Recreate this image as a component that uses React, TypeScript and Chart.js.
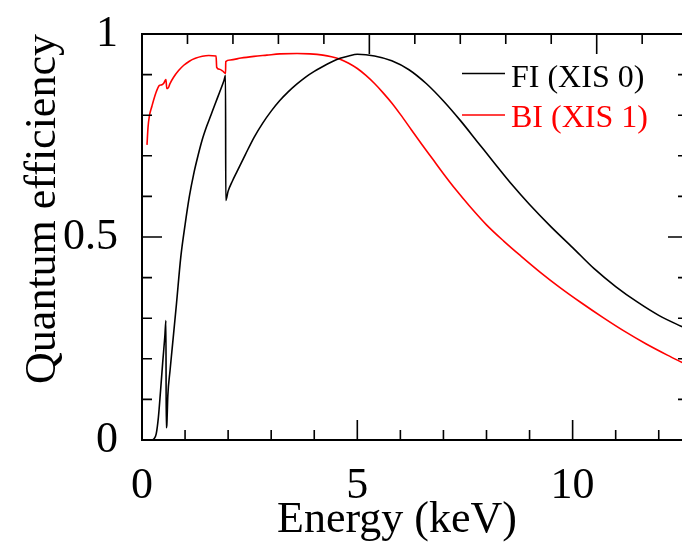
import React, { useEffect, useRef } from "react";
import { Chart, registerables } from "chart.js";

Chart.register(...registerables);

// FI (XIS 0) quantum efficiency
const fiEnergy = [0.23, 0.28, 0.33, 0.38, 0.43, 0.48, 0.53, 0.556, 0.562, 0.575, 0.6, 0.65, 0.7, 0.8, 0.9, 1.0, 1.1, 1.2, 1.3, 1.4, 1.5, 1.6, 1.7, 1.8, 1.9, 1.94, 1.945, 2.0, 2.1, 2.2, 2.4, 2.6, 2.8, 3.0, 3.2, 3.4, 3.6, 3.8, 4.0, 4.2, 4.4, 4.6, 4.8, 5.0, 5.4, 5.8, 6.2, 6.6, 7.0, 7.4, 7.8, 8.2, 8.6, 9.0, 9.5, 10.0, 10.5, 11.0, 11.5, 12.0, 12.6];
const fiQE = [0, 0.003, 0.015, 0.055, 0.12, 0.19, 0.255, 0.294, 0.03, 0.035, 0.11, 0.17, 0.225, 0.335, 0.45, 0.53, 0.6, 0.655, 0.7, 0.74, 0.772, 0.8, 0.828, 0.856, 0.884, 0.898, 0.59, 0.613, 0.638, 0.66, 0.703, 0.745, 0.78, 0.81, 0.836, 0.858, 0.877, 0.894, 0.908, 0.92, 0.931, 0.94, 0.946, 0.95, 0.946, 0.934, 0.912, 0.878, 0.835, 0.786, 0.733, 0.68, 0.628, 0.58, 0.525, 0.474, 0.422, 0.378, 0.34, 0.307, 0.276];

// BI (XIS 1) quantum efficiency
const biEnergy = [0.116, 0.14, 0.17, 0.23, 0.3, 0.386, 0.42, 0.46, 0.5, 0.54, 0.556, 0.575, 0.6, 0.65, 0.73, 0.85, 0.97, 1.1, 1.24, 1.4, 1.55, 1.72, 1.735, 1.8, 1.87, 1.94, 1.945, 2.05, 2.3, 2.6, 2.9, 3.2, 3.6, 3.9, 4.2, 4.4, 4.6, 4.8, 5.0, 5.2, 5.4, 5.6, 5.8, 6.0, 6.25, 6.5, 6.75, 7.0, 7.3, 7.6, 8.0, 8.4, 8.8, 9.25, 9.7, 10.2, 10.7, 11.2, 11.7, 12.2, 12.6];
const biQE = [0.727, 0.77, 0.797, 0.822, 0.848, 0.871, 0.874, 0.875, 0.878, 0.886, 0.888, 0.866, 0.866, 0.878, 0.893, 0.91, 0.923, 0.933, 0.94, 0.945, 0.947, 0.946, 0.918, 0.913, 0.909, 0.903, 0.932, 0.936, 0.941, 0.945, 0.948, 0.951, 0.952, 0.951, 0.948, 0.944, 0.938, 0.928, 0.915, 0.898, 0.878, 0.855, 0.83, 0.802, 0.765, 0.728, 0.692, 0.656, 0.615, 0.577, 0.53, 0.49, 0.453, 0.413, 0.376, 0.338, 0.302, 0.268, 0.237, 0.209, 0.188];

const seriesLabels = ["FI (XIS 0)", "BI (XIS 1)"];
const seriesColors = ["#000000", "#ff0000"];
const xTitle = "Energy (keV)";
const yTitle = "Quantum efficiency";
const xTickValues = [0, 1, 2, 3, 4, 5, 6, 7, 8, 9, 10, 11, 12];
const xTopTickValues = [0, 1, 2, 3, 4, 5, 6, 7, 8, 9, 10, 11];
const yTickValues = [0, 0.1, 0.2, 0.3, 0.4, 0.5, 0.6, 0.7, 0.8, 0.9, 1];
const xLabelValues = [0, 5, 10];
const yLabels: Record<string, string> = { "0": "0", "0.5": "0.5", "1": "1" };

const FONT = "'Liberation Serif', 'Times New Roman', serif";

const framePlugin = {
  id: "frame",
  afterDraw(chart: any) {
    const { ctx, chartArea } = chart;
    const { left, top, bottom, right } = chartArea;
    const x = chart.scales.x;
    const xTop = chart.scales.xTop;
    const y = chart.scales.y;
    const R = right + 6;
    ctx.save();
    ctx.strokeStyle = "#000";
    ctx.lineWidth = 2;
    ctx.beginPath();
    ctx.moveTo(R, top);
    ctx.lineTo(left, top);
    ctx.lineTo(left, bottom);
    ctx.lineTo(R, bottom);
    ctx.stroke();
    ctx.lineWidth = 1.6;
    ctx.beginPath();
    for (const v of xTickValues) {
      const px = x.getPixelForValue(v);
      const len = v % 5 === 0 ? 20 : 10;
      ctx.moveTo(px, bottom);
      ctx.lineTo(px, bottom - len);
    }
    for (const v of xTopTickValues) {
      const px = xTop.getPixelForValue(v);
      const len = v % 5 === 0 ? 20 : 10;
      ctx.moveTo(px, top);
      ctx.lineTo(px, top + len);
    }
    for (const v of yTickValues) {
      const py = y.getPixelForValue(v);
      const major = Math.abs(v * 2 - Math.round(v * 2)) < 1e-6;
      const len = major ? 20 : 10;
      ctx.moveTo(left, py);
      ctx.lineTo(left + len, py);
      ctx.moveTo(R, py);
      ctx.lineTo(R - len, py);
    }
    ctx.stroke();

    // axis titles
    ctx.fillStyle = "#000";
    ctx.font = `44px ${FONT}`;
    ctx.textAlign = "center";
    ctx.textBaseline = "alphabetic";
    ctx.fillText(xTitle, 397, 532);
    ctx.save();
    ctx.translate(55, 209);
    ctx.rotate(-Math.PI / 2);
    ctx.fillText(yTitle, 0, 0);
    ctx.restore();

    // legend
    ctx.font = `32px ${FONT}`;
    ctx.textAlign = "left";
    const rows = [
      { ly: 73.5, ty: 86.7 },
      { ly: 115, ty: 127.3 },
    ];
    chart.data.datasets.forEach((ds: any, i: number) => {
      const r = rows[i];
      ctx.strokeStyle = ds.borderColor;
      ctx.lineWidth = 1.5;
      ctx.beginPath();
      ctx.moveTo(462, r.ly);
      ctx.lineTo(505, r.ly);
      ctx.stroke();
      ctx.fillStyle = ds.borderColor;
      ctx.fillText(ds.label, 511, r.ty);
    });
    ctx.restore();
  },
};

export default function App() {
  const ref = useRef<HTMLCanvasElement | null>(null);
  useEffect(() => {
    if (!ref.current) return;
    const toPts = (xs: number[], ys: number[]) => xs.map((e, i) => ({ x: e, y: ys[i] }));
    const chart = new Chart(ref.current, {
      type: "scatter",
      data: {
        datasets: [
          {
            label: seriesLabels[0],
            data: toPts(fiEnergy, fiQE),
            borderColor: seriesColors[0],
            backgroundColor: seriesColors[0],
            showLine: true,
            pointRadius: 0,
            borderWidth: 1.6,
            cubicInterpolationMode: "monotone",
          },
          {
            label: seriesLabels[1],
            data: toPts(biEnergy, biQE),
            borderColor: seriesColors[1],
            backgroundColor: seriesColors[1],
            showLine: true,
            pointRadius: 0,
            borderWidth: 1.6,
            cubicInterpolationMode: "monotone",
          },
        ],
      },
      options: {
        animation: false,
        responsive: false,
        layout: { padding: { top: 34, left: 0, right: 0, bottom: 0 } },
        plugins: { legend: { display: false }, tooltip: { enabled: false } },
        scales: {
          x: {
            type: "linear",
            position: "bottom",
            min: 0,
            max: 12.54,
            grid: { display: false },
            border: { display: false },
            afterBuildTicks: (s: any) => {
              s.ticks = xLabelValues.map((v) => ({ value: v }));
            },
            ticks: {
              autoSkip: false,
              color: "#000",
              padding: 12,
              font: { family: FONT, size: 44 },
              maxRotation: 0,
              callback: (v: any) => String(v),
            },
            afterFit: (s: any) => {
              s.height = 103;
              s.paddingLeft = 0;
              s.paddingRight = 0;
            },
          },
          xTop: {
            type: "linear",
            position: "top",
            display: false,
            min: 0,
            max: 11.876,
          },
          y: {
            type: "linear",
            min: 0,
            max: 1,
            grid: { display: false },
            border: { display: false },
            afterBuildTicks: (s: any) => {
              s.ticks = [0, 0.5, 1].map((v) => ({ value: v }));
            },
            ticks: {
              autoSkip: false,
              color: "#000",
              padding: 16,
              font: { family: FONT, size: 44 },
              callback: (v: any) => yLabels[String(v)] ?? "",
            },
            afterFit: (s: any) => {
              s.width = 142;
              s.paddingTop = 0;
              s.paddingBottom = 0;
            },
          },
        },
      },
      plugins: [framePlugin],
    } as any);
    return () => chart.destroy();
  }, []);
  return (
    <div style={{ position: "fixed", left: 0, top: 0, width: 682, height: 543, background: "#fff" }}>
      <canvas ref={ref} width={682} height={543} style={{ display: "block" }} />
    </div>
  );
}
